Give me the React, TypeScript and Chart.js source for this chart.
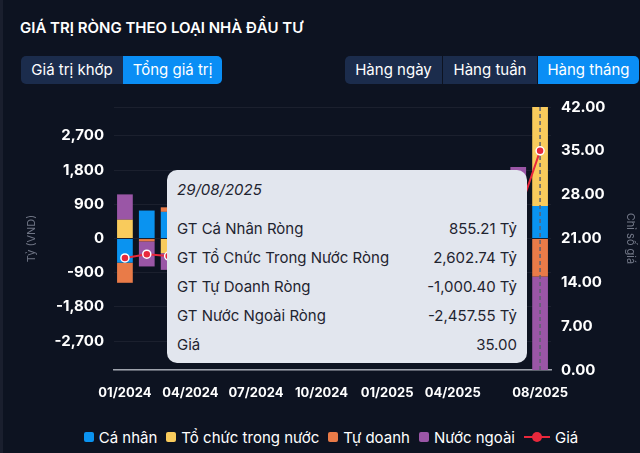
import React, { useEffect, useRef } from 'react';
import { Chart, registerables } from 'chart.js';

Chart.register(...registerables);

const months = [
  '01/2024', '02/2024', '03/2024', '04/2024', '05/2024', '06/2024', '07/2024', '08/2024', '09/2024', '10/2024',
  '11/2024', '12/2024', '01/2025', '02/2025', '03/2025', '04/2025', '05/2025', '06/2025', '07/2025', '08/2025',
];
const caNhan = [-635, 735, 700, 1350, 980, 1250, 620, 1150, 760, 1420, 1580, 690, 1020, 540, 1300, 1650, -420, -680, -1880, 855.21];
const toChuc = [495, -15, -385, -420, -150, -300, 240, -380, -210, -350, -420, 180, -160, 310, -250, -480, 350, 420, 620, 2602.74];
const tuDoanh = [-530, -60, 120, -280, -180, -210, -120, -90, 140, -180, -260, 120, -230, -120, -140, -300, 280, 190, 470, -1000.4];
const nuocNgoai = [665, -660, -440, -650, -650, -740, -740, -680, -690, -890, -900, -990, -630, -730, -910, -870, -210, 70, 790, -2457.55];
const gia = [17.9, 18.5, 18.2, 18.6, 19.1, 19.4, 18.7, 18.9, 19.6, 20.2, 19.8, 20.6, 21.3, 20.5, 19.7, 20.9, 22.4, 23.6, 24.8, 35.0];
const shownMonths = ['01/2024', '04/2024', '07/2024', '10/2024', '01/2025', '04/2025', '08/2025'];
const leftStep = 900;
const rightTicks = [0, 7, 14, 21, 28, 35, 42];
const tooltipDate = '29/08/2025';
const tooltipLabels = ['GT Cá Nhân Ròng', 'GT Tổ Chức Trong Nước Ròng', 'GT Tự Doanh Ròng', 'GT Nước Ngoài Ròng', 'Giá'];
const legendNames = ['Cá nhân', 'Tổ chức trong nước', 'Tự doanh', 'Nước ngoài', 'Giá'];

const COLORS = {
  bg: '#0d1321',
  blue: '#0a93f0',
  yellow: '#f9cb5c',
  orange: '#e97b48',
  purple: '#9a56a6',
  red: '#e8283c',
};

const activeIndex = months.length - 1;

const fmt2 = (v: number) => v.toLocaleString('en-US', { minimumFractionDigits: 2, maximumFractionDigits: 2 });

export default function App() {
  const canvasRef = useRef<HTMLCanvasElement | null>(null);

  useEffect(() => {
    document.body.style.margin = '0';
    const canvas = canvasRef.current;
    if (!canvas) return;
    const bound = Math.max(
      ...months.map((_, i) => {
        const vals = [caNhan[i], toChuc[i], tuDoanh[i], nuocNgoai[i]];
        const pos = vals.filter((v) => v > 0).reduce((a, b) => a + b, 0);
        const neg = vals.filter((v) => v < 0).reduce((a, b) => a + b, 0);
        return Math.max(pos, -neg);
      })
    );

    const hoverLine = {
      id: 'hoverLine',
      beforeDatasetDraw(chart: any, args: any) {
        if (args.meta.type !== 'line') return;
        const x = chart.scales.x.getPixelForValue(activeIndex);
        const { top, bottom } = chart.chartArea;
        const ctx = chart.ctx;
        ctx.save();
        ctx.strokeStyle = '#5d6270';
        ctx.lineWidth = 1.5;
        ctx.setLineDash([4, 3]);
        ctx.beginPath();
        ctx.moveTo(x, top);
        ctx.lineTo(x, bottom);
        ctx.stroke();
        ctx.restore();
      },
    };

    const chart = new Chart(canvas, {
      type: 'bar',
      data: {
        labels: months,
        datasets: [
          { type: 'bar', label: legendNames[0], data: caNhan, backgroundColor: COLORS.blue, borderWidth: 0, yAxisID: 'y', order: 1 },
          { type: 'bar', label: legendNames[1], data: toChuc, backgroundColor: COLORS.yellow, borderWidth: 0, yAxisID: 'y', order: 1 },
          { type: 'bar', label: legendNames[2], data: tuDoanh, backgroundColor: COLORS.orange, borderWidth: 0, yAxisID: 'y', order: 1 },
          { type: 'bar', label: legendNames[3], data: nuocNgoai, backgroundColor: COLORS.purple, borderWidth: 0, yAxisID: 'y', order: 1 },
          {
            type: 'line',
            label: legendNames[4],
            data: gia,
            borderColor: COLORS.red,
            backgroundColor: COLORS.red,
            borderWidth: 2,
            pointRadius: 4,
            pointBorderColor: '#ffffff',
            pointBorderWidth: 1.5,
            pointBackgroundColor: COLORS.red,
            tension: 0,
            yAxisID: 'y1',
            order: 0,
          } as any,
        ],
      },
      options: {
        animation: false,
        responsive: false,
        maintainAspectRatio: false,
        layout: { padding: { top: 12, left: 0, right: 3.4, bottom: 4.4 } },
        plugins: {
          legend: { display: false },
          tooltip: { enabled: false },
        },
        scales: {
          x: {
            stacked: true,
            afterFit: (s: any) => {
              s.height = 30.6;
            },
            grid: { display: false, drawTicks: false },
            border: { display: true, color: '#9ea3ad', width: 1.5 },
            ticks: {
              autoSkip: false,
              maxRotation: 0,
              padding: 15,
              color: '#ffffff',
              font: { family: 'Inter', size: 13, weight: 'bold' },
              callback: (_v: any, i: number) => (shownMonths.includes(months[i]) ? months[i] : ''),
            },
          },
          y: {
            stacked: true,
            position: 'left',
            min: -bound,
            max: bound,
            afterFit: (s: any) => {
              s.width = 114;
              s.paddingTop = 0;
              s.paddingBottom = 0;
            },
            afterBuildTicks: (s: any) => {
              const vals: number[] = [-bound];
              const start = -Math.floor(bound / leftStep) * leftStep;
              for (let v = start; v <= bound + 1e-9; v += leftStep) {
                if (v > -bound && v < bound) vals.push(v);
              }
              vals.push(bound);
              s.ticks = vals.map((value) => ({ value }));
            },
            grid: { color: 'rgba(255,255,255,0.06)', drawTicks: false },
            border: { display: false },
            ticks: {
              padding: 10,
              color: '#ffffff',
              font: { family: 'Inter', size: 15, weight: 'bold' },
              callback: (v: any) => (Math.abs(Number(v) % leftStep) < 1e-6 ? Number(v).toLocaleString('en-US') : ''),
            },
            title: {
              display: true,
              text: 'Tỷ (VND)',
              color: '#6f7585',
              font: { family: 'Inter', size: 11 },
              padding: { top: 25.4, bottom: 0 },
            },
          },
          y1: {
            position: 'right',
            min: rightTicks[0],
            max: rightTicks[rightTicks.length - 1],
            afterFit: (s: any) => {
              s.width = 85.6;
              s.paddingTop = 0;
              s.paddingBottom = 0;
            },
            grid: { display: false, drawTicks: false },
            border: { display: false },
            ticks: {
              stepSize: rightTicks[1] - rightTicks[0],
              padding: 10,
              color: '#ffffff',
              font: { family: 'Inter', size: 15, weight: 'bold' },
              callback: (v: any) => Number(v).toFixed(2),
            },
            title: {
              display: true,
              text: 'Chỉ số giá',
              color: '#737989',
              font: { family: 'Inter', size: 11 },
              padding: { top: 0, bottom: 0 },
            },
          },
        },
      },
      plugins: [hoverLine],
    } as any);

    return () => chart.destroy();
  }, []);

  const tooltipValues = [
    `${fmt2(caNhan[activeIndex])} Tỷ`,
    `${fmt2(toChuc[activeIndex])} Tỷ`,
    `${fmt2(tuDoanh[activeIndex])} Tỷ`,
    `${fmt2(nuocNgoai[activeIndex])} Tỷ`,
    fmt2(gia[activeIndex]),
  ];
  const legendColors = [COLORS.blue, COLORS.yellow, COLORS.orange, COLORS.purple];

  const btn = (active: boolean, w: number): React.CSSProperties => ({
    width: w,
    height: 28,
    lineHeight: '28px',
    textAlign: 'center',
    fontSize: 15,
    color: '#ffffff',
    background: active ? '#0a8ef5' : '#1b2c4c',
  });

  return (
    <div
      style={{
        position: 'fixed',
        left: 0,
        top: 0,
        width: 640,
        height: 453,
        background: COLORS.bg,
        overflow: 'hidden',
        fontFamily: 'Inter, sans-serif',
      }}
    >
      <div style={{ position: 'absolute', left: 0, top: 0, width: 3, height: 453, background: '#1a1f2e' }} />
      <div
        style={{
          position: 'absolute',
          left: 20,
          top: 18,
          fontSize: 15,
          lineHeight: '20px',
          fontWeight: 600,
          color: '#ffffff',
          whiteSpace: 'nowrap',
        }}
      >
        GIÁ TRỊ RÒNG THEO LOẠI NHÀ ĐẦU TƯ
      </div>
      <div style={{ position: 'absolute', left: 21, top: 56, display: 'flex', borderRadius: 5, overflow: 'hidden' }}>
        <div style={btn(false, 102)}>Giá trị khớp</div>
        <div style={btn(true, 99)}>Tổng giá trị</div>
      </div>
      <div style={{ position: 'absolute', left: 345, top: 56, display: 'flex', borderRadius: 5, overflow: 'hidden' }}>
        <div style={{ ...btn(false, 97), borderRight: '1px solid #0d1321' }}>Hàng ngày</div>
        <div style={{ ...btn(false, 94), borderRight: '1px solid #0d1321' }}>Hàng tuần</div>
        <div style={btn(true, 101)}>Hàng tháng</div>
      </div>
      <canvas
        ref={canvasRef}
        width={640}
        height={310}
        style={{ position: 'absolute', left: 0, top: 95, width: 640, height: 310 }}
      />
      <div
        style={{
          position: 'absolute',
          left: 167,
          top: 170,
          width: 360,
          height: 193,
          background: '#e2e6ee',
          borderRadius: 10,
          fontFamily: 'Inter, sans-serif',
          color: '#1f2430',
          fontSize: 15,
        }}
      >
        <div style={{ position: 'absolute', left: 10, top: 10, fontStyle: 'italic', lineHeight: '20px' }}>{tooltipDate}</div>
        {tooltipLabels.map((lab, i) => (
          <div
            key={lab}
            style={{
              position: 'absolute',
              left: 10,
              right: 10,
              top: 49 + i * 29,
              lineHeight: '20px',
              display: 'flex',
              justifyContent: 'space-between',
            }}
          >
            <span>{lab}</span>
            <span>{tooltipValues[i]}</span>
          </div>
        ))}
      </div>
      <div
        style={{
          position: 'absolute',
          left: 11,
          width: 640,
          top: 427,
          height: 20,
          display: 'flex',
          justifyContent: 'center',
          alignItems: 'center',
          color: '#ffffff',
          fontSize: 15,
        }}
      >
        {legendNames.slice(0, 4).map((n, i) => (
          <div key={n} style={{ display: 'flex', alignItems: 'center', marginRight: 9 }}>
            <span
              style={{ width: 10, height: 10, borderRadius: 2, background: legendColors[i], display: 'inline-block', marginRight: 5 }}
            />
            <span>{n}</span>
          </div>
        ))}
        <div style={{ display: 'flex', alignItems: 'center' }}>
          <span style={{ position: 'relative', width: 26, height: 10, display: 'inline-block', marginRight: 5 }}>
            <span style={{ position: 'absolute', left: 0, top: 4, width: 26, height: 2, background: COLORS.red }} />
            <span
              style={{ position: 'absolute', left: 8, top: 0, width: 10, height: 10, borderRadius: 5, background: COLORS.red }}
            />
          </span>
          <span>{legendNames[4]}</span>
        </div>
      </div>
    </div>
  );
}
